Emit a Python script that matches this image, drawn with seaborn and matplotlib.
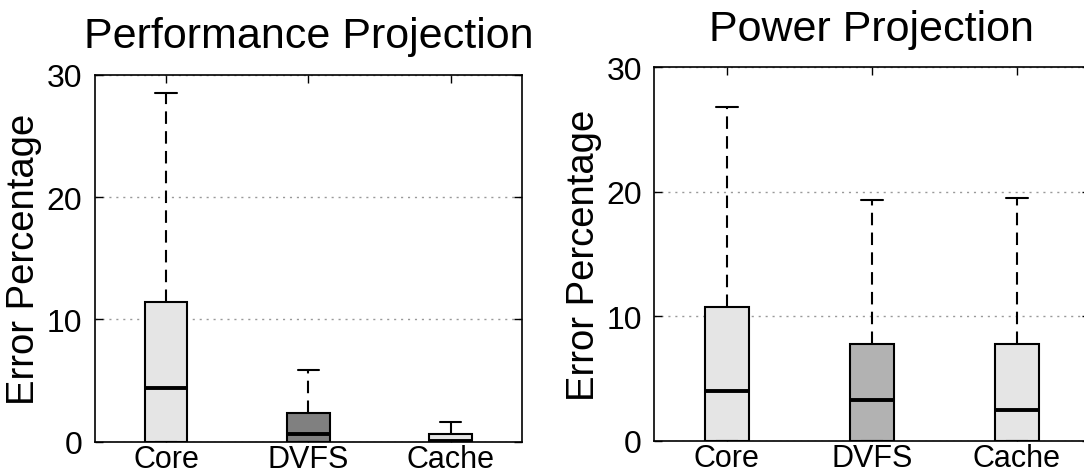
import matplotlib
matplotlib.use("Agg")
import matplotlib.pyplot as plt
import seaborn as sns
import pandas as pd

# Categories and five-number summaries (low, Q1, median, Q3, high) in error %
categories = ["Core", "DVFS", "Cache"]

perf_low = [0.0, 0.0, 0.0]
perf_q1 = [0.0, 0.0, 0.0]
perf_median = [4.4, 0.6, 0.05]
perf_q3 = [11.4, 2.37, 0.63]
perf_high = [28.5, 5.88, 1.63]

power_low = [0.0, 0.0, 0.0]
power_q1 = [0.0, 0.0, 0.0]
power_median = [4.0, 3.26, 2.43]
power_q3 = [10.75, 7.75, 7.8]
power_high = [26.8, 19.33, 19.5]

perf_colors = ["#e5e5e5", "#808080", "#e5e5e5"]
power_colors = ["#e5e5e5", "#b2b2b2", "#e5e5e5"]

y_ticks = [0, 10, 20, 30]


def summary_frame(low, q1, med, q3, high):
    rows = []
    for i, cat in enumerate(categories):
        for v in (low[i], q1[i], med[i], q3[i], high[i]):
            rows.append({"category": cat, "error": v})
    return pd.DataFrame(rows)


sns.set_style("ticks")
plt.rcParams["font.family"] = ["Liberation Sans", "DejaVu Sans"]
plt.rcParams["axes.linewidth"] = 1.2
for key in ("text.color", "axes.labelcolor", "xtick.color", "ytick.color",
            "axes.edgecolor"):
    plt.rcParams[key] = "black"

fig = plt.figure(figsize=(10.84, 4.77), dpi=100)
ax_perf = fig.add_axes([0.0874, 0.0719, 0.3941, 0.7694])
ax_power = fig.add_axes([0.6036, 0.0740, 0.4015, 0.7828])

panels = [
    (ax_perf, summary_frame(perf_low, perf_q1, perf_median, perf_q3, perf_high),
     perf_colors, "Performance Projection"),
    (ax_power, summary_frame(power_low, power_q1, power_median, power_q3, power_high),
     power_colors, "Power Projection"),
]

for ax, df, colors, title in panels:
    sns.boxplot(
        data=df, x="category", y="error", hue="category",
        order=categories, hue_order=categories,
        palette=dict(zip(categories, colors)), saturation=1,
        width=0.30, whis=(0, 100), linecolor="black", linewidth=1.5,
        legend=False, ax=ax, zorder=3,
        whiskerprops={"linestyle": (0, (6, 3.5)), "linewidth": 1.5, "color": "black"},
        capprops={"linewidth": 1.5, "color": "black"},
        medianprops={"linewidth": 2.8, "color": "black"},
        boxprops={"edgecolor": "black", "linewidth": 1.5},
        showfliers=False,
    )
    ax.set_xlim(-0.5, 2.5)
    ax.set_ylim(0, 30)
    ax.set_yticks(y_ticks)
    ax.set_xlabel("")
    ax.set_ylabel("Error Percentage", fontsize=27.5, labelpad=3, color="black")
    ax.set_title(title, fontsize=31, pad=20, color="black")
    ax.yaxis.grid(True, linestyle=(0, (1.5, 3.5)), color="#999999", linewidth=1)
    ax.xaxis.grid(False)
    ax.set_axisbelow(True)
    ax.tick_params(axis="both", which="major", direction="in", top=True,
                   right=True, length=6, width=1, labelsize=23, colors="black")
    ax.tick_params(axis="y", pad=9)
    ax.tick_params(axis="x", pad=2, labelsize=22)
    for spine in ax.spines.values():
        spine.set_visible(True)
        spine.set_color("black")
        spine.set_linewidth(1.2)

fig.savefig("out.png", dpi=100)
